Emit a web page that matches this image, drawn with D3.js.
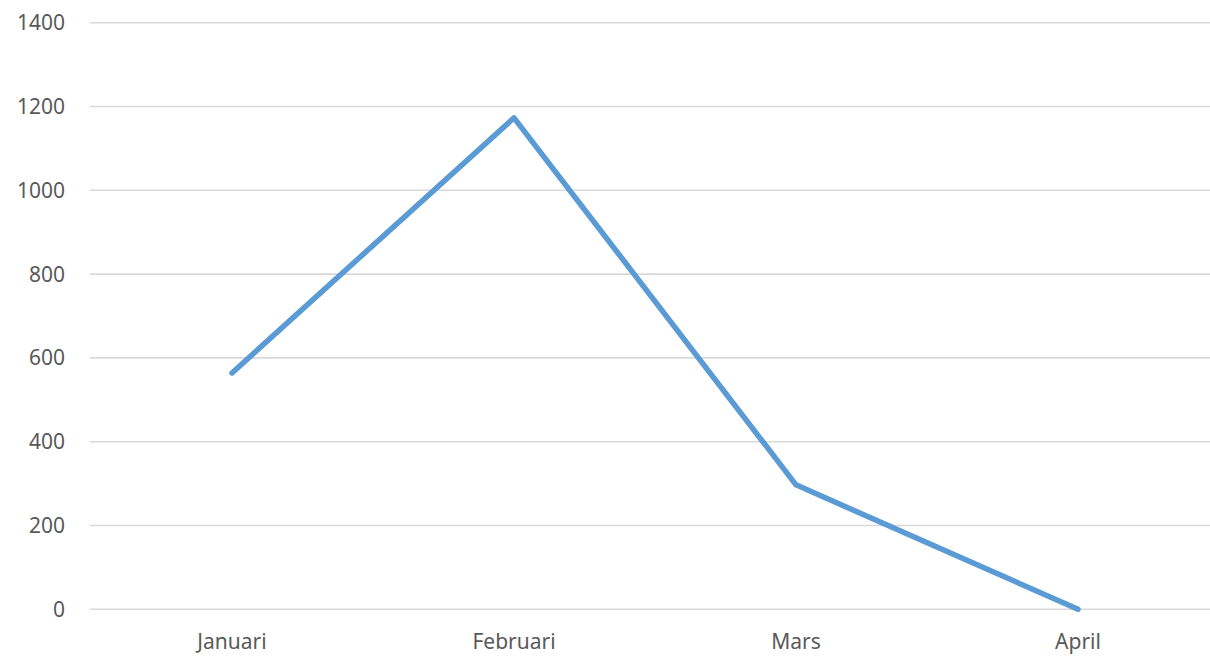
<!DOCTYPE html>
<html>
<head>
<meta charset="utf-8">
<script src="https://cdn.jsdelivr.net/npm/d3@7"></script>
<style>
  body { margin: 0; background: #fff; }
  text { font-family: "Noto Sans", "Open Sans", sans-serif; fill: #595959; }
</style>
</head>
<body>
<svg id="chart" width="1210" height="657"></svg>
<script>
/* ---- DATA ---- */
var months = ["Januari", "Februari", "Mars", "April"];
var values = [564, 1173, 297, 0];
var y_ticks = [0, 200, 400, 600, 800, 1000, 1200, 1400];

/* ---- SCALES ---- */
var svg = d3.select("#chart");

var x = d3.scaleBand()
    .domain(months)
    .range([91, 1219])
    .padding(0);

var y = d3.scaleLinear()
    .domain([0, 1400])
    .range([609.3, 22.7]);

/* ---- GRID ---- */
svg.append("g")
    .selectAll("line")
    .data(y_ticks)
    .enter()
    .append("line")
    .attr("x1", 90)
    .attr("x2", 1219)
    .attr("y1", function(d) { return y(d); })
    .attr("y2", function(d) { return y(d); })
    .attr("stroke", "#d9d9d9")
    .attr("stroke-width", 1.6);

/* ---- AXIS LABELS ---- */
svg.append("g")
    .selectAll("text")
    .data(y_ticks)
    .enter()
    .append("text")
    .attr("x", 65)
    .attr("y", function(d) { return y(d); })
    .attr("dy", "0.36em")
    .attr("text-anchor", "end")
    .style("font-size", "21px")
    .text(function(d) { return d; });

svg.append("g")
    .selectAll("text")
    .data(months)
    .enter()
    .append("text")
    .attr("x", function(d) { return x(d) + x.bandwidth() / 2; })
    .attr("y", 649)
    .attr("text-anchor", "middle")
    .style("font-size", "21px")
    .text(function(d) { return d; });

/* ---- LINE ---- */
var line = d3.line()
    .x(function(d, i) { return x(months[i]) + x.bandwidth() / 2; })
    .y(function(d) { return y(d); });

svg.append("path")
    .datum(values)
    .attr("d", line)
    .attr("fill", "none")
    .attr("stroke", "#5b9bd5")
    .attr("stroke-width", 5.5)
    .attr("stroke-linecap", "round")
    .attr("stroke-linejoin", "round");
</script>
</body>
</html>
